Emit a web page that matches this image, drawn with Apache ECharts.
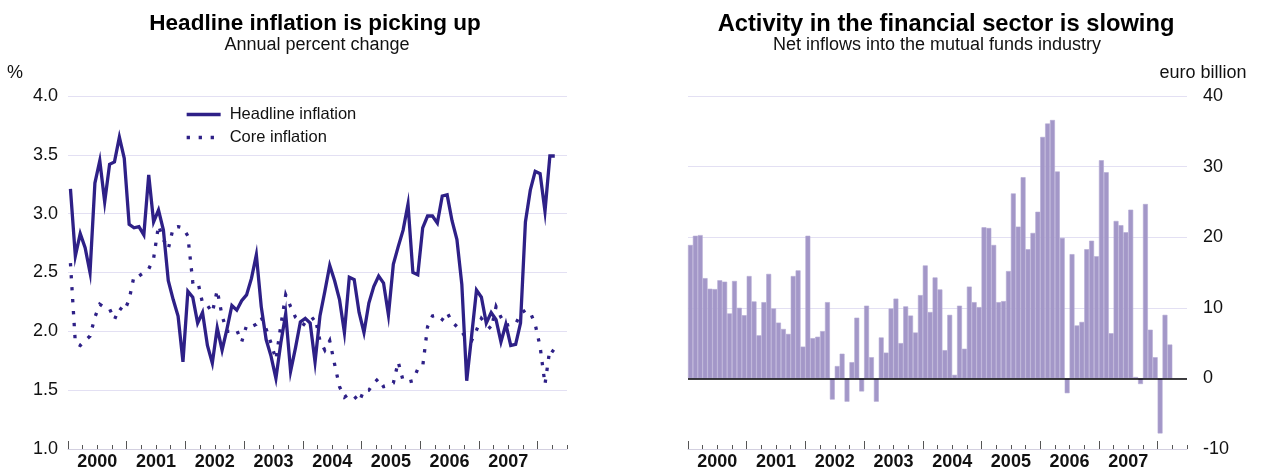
<!DOCTYPE html>
<html><head><meta charset="utf-8">
<script src="https://cdn.jsdelivr.net/npm/echarts@6/dist/echarts.min.js"></script>
<style>html,body{margin:0;padding:0;background:#fff}#c{width:1261px;height:468px}</style>
</head><body><div id="c"></div>
<script>
// ---- data ----
const years = ['2000','2001','2002','2003','2004','2005','2006','2007'];
// monthly, Jan 2000 .. Apr 2008
const headline = [3.21,2.64,2.83,2.71,2.50,3.26,3.45,3.10,3.42,3.44,3.65,3.47,
  2.91,2.88,2.89,2.82,3.33,2.93,3.03,2.86,2.43,2.27,2.13,1.74,
  2.34,2.29,2.07,2.16,1.88,1.73,2.03,1.84,2.02,2.22,2.18,2.26,
  2.31,2.45,2.65,2.21,1.93,1.79,1.60,1.90,2.15,1.66,1.86,2.08,
  2.11,2.07,1.74,2.13,2.34,2.56,2.43,2.27,1.99,2.46,2.44,2.16,
  1.99,2.24,2.38,2.47,2.41,2.14,2.57,2.72,2.86,3.08,2.50,2.48,
  2.88,2.98,2.98,2.92,3.15,3.16,2.94,2.78,2.40,1.58,1.96,2.35,
  2.29,2.07,2.16,2.10,1.91,2.06,1.88,1.89,2.07,2.93,3.20,3.36,
  3.34,3.02,3.49,3.49];
const core = [2.58,1.90,1.88,1.92,1.96,2.12,2.23,2.20,2.19,2.10,2.20,2.17,
  2.27,2.47,2.47,2.50,2.53,2.62,2.90,2.78,2.70,2.88,2.89,2.88,
  2.81,2.42,2.43,2.24,2.22,2.16,2.35,2.13,2.00,2.00,2.01,1.91,
  2.05,2.04,2.06,2.12,2.02,1.90,1.76,2.05,2.31,2.21,2.12,2.08,
  2.05,2.09,2.12,1.92,1.84,1.92,1.72,1.53,1.44,1.47,1.45,1.40,
  1.50,1.50,1.56,1.60,1.53,1.54,1.56,1.74,1.58,1.57,1.58,1.68,
  1.70,2.04,2.13,2.14,2.10,2.16,2.08,2.04,2.00,1.93,1.92,2.01,
  2.11,2.06,2.02,2.21,2.12,2.05,2.06,2.06,2.15,2.18,2.16,2.06,
  1.87,1.55,1.85,1.82];
// monthly, Jan 2000 .. Mar 2008 (euro billion)
const inflows = [18.9,20.2,20.3,14.2,12.7,12.65,13.9,13.7,9.2,13.8,10.0,8.95,
  14.5,10.9,6.1,10.8,14.8,9.9,7.9,7.0,6.3,14.5,15.3,4.5,
  20.2,5.7,5.9,6.7,10.8,-3.0,1.75,3.5,-3.3,2.3,8.6,-1.85,
  10.3,3.0,-3.3,5.8,3.65,9.9,11.3,5.0,10.2,8.9,6.5,11.8,
  16.0,9.4,14.3,12.6,4.0,9.0,0.5,10.3,4.2,13.0,10.8,10.1,
  21.4,21.3,18.9,10.8,10.95,15.2,26.2,21.5,28.5,18.3,20.6,23.6,
  34.2,36.1,36.6,29.3,19.9,-2.1,17.6,7.5,8.0,18.3,19.5,17.3,
  30.9,29.2,6.4,22.3,21.7,20.7,23.9,0.2,-0.8,24.7,6.9,3.0,
  -7.8,9.0,4.8];

// month categories Jan 2000 .. Jun 2008 (axis span), and month boundaries
const months = [];
for (let y = 2000; y <= 2008; y++) for (let m = 1; m <= 12; m++) months.push(y + '-' + (m < 10 ? '0' + m : m));
months.length = 102;
const bounds = [];
for (let k = 0; k <= 102; k++) bounds.push(String(k));

const FONT = "'Liberation Sans', Arial, Helvetica, sans-serif";
const NAVY = '#2e2087';
const GRIDC = '#e3e0f3';
const AXISC = '#d3d0e0';
const TICKC = '#555555';
const BARC = '#a397c8';

function xAxes(g) {
  return [
    { type: 'category', gridIndex: g, data: months, boundaryGap: true, position: 'bottom',
      axisLine: { show: true, onZero: false, lineStyle: { color: AXISC, width: 1 } },
      axisTick: { show: true, inside: true, length: 4, interval: (i) => i % 3 === 0, lineStyle: { color: TICKC, width: 1 } },
      axisLabel: { show: false }, splitLine: { show: false } },
    { type: 'category', gridIndex: g, data: bounds, boundaryGap: false, position: 'bottom',
      axisLine: { show: false, onZero: false },
      axisTick: { show: true, inside: true, length: 8, interval: (i) => i % 12 === 0, lineStyle: { color: TICKC, width: 1 } },
      axisLabel: { show: true, interval: (i) => i % 12 === 6 && i < 96,
        formatter: (v, i) => years[Math.floor(Number(v) / 12)],
        fontFamily: FONT, fontSize: 18, fontWeight: 'bold', color: '#111', margin: 4 },
      splitLine: { show: false } }
  ];
}

function titleBox(text, center, top, size, bold) {
  return { text: text, left: center - 5, top: top, textAlign: 'center',
    textStyle: { fontFamily: FONT, fontSize: size, fontWeight: bold ? 'bold' : 'normal', color: bold ? '#000' : '#111' } };
}

const chart = echarts.init(document.getElementById('c'), null, { renderer: 'canvas' });
chart.setOption({
  animation: false,
  backgroundColor: '#fff',
  textStyle: { fontFamily: FONT },
  title: [
    titleBox('Headline inflation is picking up', 315, 7, 22.5, true),
    titleBox('Annual percent change', 317, 31, 18, false),
    titleBox('Activity in the financial sector is slowing', 946, 7, 23.7, true),
    titleBox('Net inflows into the mutual funds industry', 937, 31, 18, false)
  ],
  legend: {
    data: ['Headline inflation', 'Core inflation'],
    orient: 'vertical', left: 180, top: 101, itemWidth: 34, itemHeight: 14, itemGap: 6,
    textStyle: { fontFamily: FONT, fontSize: 16.5, color: '#111', padding: [0, 0, 0, 4] },
    lineStyle: { width: 3.3 },
    itemStyle: { color: 'rgba(0,0,0,0)', borderWidth: 0, opacity: 0 },
    selectedMode: false
  },
  grid: [
    { left: 68, top: 96, width: 499, height: 353, containLabel: false, outerBoundsMode: 'none' },
    { left: 688, top: 96, width: 499, height: 353, containLabel: false, outerBoundsMode: 'none' }
  ],
  xAxis: xAxes(0).concat(xAxes(1)),
  yAxis: [
    { type: 'value', gridIndex: 0, min: 1, max: 4, interval: 0.5, position: 'left',
      axisLine: { show: false }, axisTick: { show: false },
      axisLabel: { formatter: (v) => v.toFixed(1), fontFamily: FONT, fontSize: 18, color: '#111', margin: 10 },
      splitLine: { show: true, lineStyle: { color: GRIDC, width: 1 } },
      name: '%', nameLocation: 'end', nameGap: 14,
      nameTextStyle: { fontFamily: FONT, fontSize: 18, color: '#111', align: 'right', padding: [0, 45, 0, 0] } },
    { type: 'value', gridIndex: 1, min: -10, max: 40, interval: 10, position: 'right',
      axisLine: { show: false }, axisTick: { show: false },
      axisLabel: { fontFamily: FONT, fontSize: 18, color: '#111', margin: 16, align: 'left' },
      splitLine: { show: true, lineStyle: { color: GRIDC, width: 1 } },
      name: 'euro billion', nameLocation: 'end', nameGap: 14,
      nameTextStyle: { fontFamily: FONT, fontSize: 18, color: '#111', align: 'center', padding: [0, 0, 0, 32] } }
  ],
  series: [
    { name: 'Core inflation', type: 'line', xAxisIndex: 0, yAxisIndex: 0, data: core,
      symbol: 'none', smooth: false, z: 3,
      itemStyle: { color: NAVY },
      lineStyle: { color: NAVY, width: 3.3, type: [3.3, 8.7], cap: 'butt', join: 'miter' } },
    { name: 'Headline inflation', type: 'line', xAxisIndex: 0, yAxisIndex: 0, data: headline,
      symbol: 'none', smooth: false, z: 4,
      itemStyle: { color: NAVY },
      lineStyle: { color: NAVY, width: 3.3, type: 'solid', cap: 'butt', join: 'miter' } },
    { name: 'Net inflows', type: 'bar', xAxisIndex: 2, yAxisIndex: 1, data: inflows,
      barWidth: '100%', barGap: '0%',
      itemStyle: { color: BARC, borderColor: '#b3a9d4', borderWidth: 0.6 },
      markLine: { silent: true, symbol: ['none', 'none'], label: { show: false },
        lineStyle: { color: '#000', width: 1.5, type: 'solid' },
        data: [{ yAxis: 0 }] } }
  ]
});
</script>
</body></html>
